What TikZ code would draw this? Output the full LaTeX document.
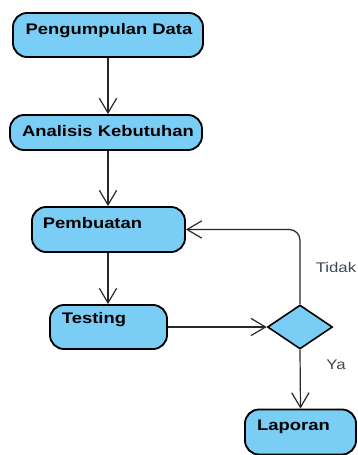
\documentclass[tikz,border=0pt]{standalone}
\usepackage{fontspec}
\usepackage{graphicx}
\setmainfont{Liberation Sans}
\usetikzlibrary{shapes.geometric,arrows.meta}
\definecolor{boxblue}{RGB}{122,206,245}
\definecolor{lbl}{RGB}{60,72,88}
\definecolor{conn}{RGB}{40,40,40}
\tikzset{
  actbox/.style={draw=black, line width=1.4pt, fill=boxblue, rounded corners=10.5pt, inner sep=0pt},
  dec/.style={draw=black, line width=1.2pt, fill=boxblue, diamond, inner sep=0pt, minimum width=48.75pt, minimum height=33pt},
  btxt/.style={font=\bfseries\fontsize{11.5}{13}\selectfont, inner sep=0pt},
  gtxt/.style={font=\fontsize{10.5}{12}\selectfont, text=lbl, inner sep=0pt},
  conn/.style={draw=conn, line width=0.9pt, -{Straight Barb[length=11pt,width=13pt,line width=0.9pt]}}
}
\newcommand{\wide}[1]{\scalebox{1.2}[1]{#1}}
\begin{document}
\begin{tikzpicture}[x=0.75pt,y=-0.75pt]
\useasboundingbox (0,0) rectangle (358,455);
\node[actbox, minimum width=142.5pt, minimum height=33pt] (n1) at (108,35) {};
\node[actbox, minimum width=144pt, minimum height=26.25pt] (n2) at (106,132.5) {};
\node[actbox, minimum width=114.75pt, minimum height=33.75pt] (n3) at (108.5,229.5) {};
\node[actbox, minimum width=87.75pt, minimum height=33pt] (n4) at (108.5,327) {};
\node[dec] (d) at (300,327) {};
\node[actbox, minimum width=83.25pt, minimum height=33.75pt] (n5) at (300.5,432) {};
\node[btxt] (t1) at (109,31) {\wide{Pengumpulan Data}};
\node[btxt] (t2) at (108,131) {\wide{Analisis Kebutuhan}};
\node[btxt] (t3) at (92.5,223) {\wide{Pembuatan}};
\node[btxt] (t4) at (94,320) {\wide{Testing}};
\node[btxt] (t5) at (293.5,427) {\wide{Laporan}};
\node[gtxt] (tidak) at (336,267) {\wide{Tidak}};
\node[gtxt] (ya) at (336,365) {\wide{Ya}};
\draw[conn] (n1.south) -- (n1.south |- n2.north);
\draw[conn] (n1.south |- n2.south) -- (n1.south |- n3.north);
\draw[conn] (n1.south |- n3.south) -- (n1.south |- n4.north);
\draw[conn] (n4.east) -- (d.west);
\draw[conn, rounded corners=8pt] (d.north) |- (n3.east);
\draw[conn] (d.south) -- (n5.north);
\end{tikzpicture}
\end{document}
